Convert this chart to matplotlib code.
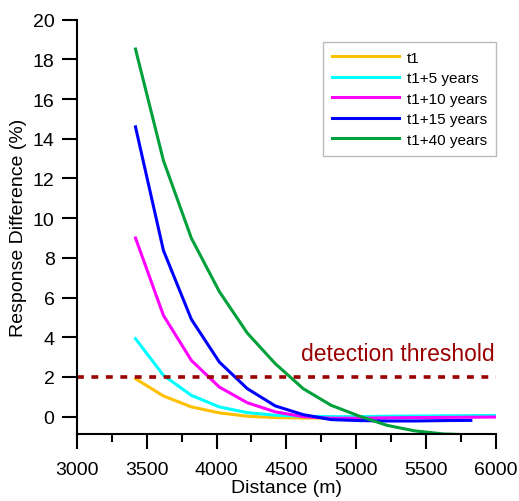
import matplotlib
matplotlib.use("Agg")
import matplotlib.pyplot as plt
from matplotlib.ticker import MultipleLocator

plt.rcParams['font.family'] = ['Liberation Sans', 'DejaVu Sans']

# distances (m) along the profile
dist_long = [3420, 3620, 3820, 4020, 4220, 4420, 4620, 4820, 5020, 5220, 5420, 5620, 5820, 6020]
dist_short = dist_long[:-1]

# response differences (%)
t1 = [1.91, 1.04, 0.49, 0.19, 0.02, -0.05, -0.07, -0.07, -0.05, -0.03, -0.01, 0.0, 0.02, 0.03]
t1_5 = [3.93, 2.08, 1.07, 0.49, 0.20, 0.07, 0.02, 0.0, 0.0, 0.02, 0.03, 0.04, 0.05, 0.06]
t1_10 = [9.0, 5.1, 2.83, 1.49, 0.70, 0.24, 0.0, -0.08, -0.08, -0.06, -0.05, -0.04, -0.03, -0.02]
t1_15 = [14.6, 8.37, 4.9, 2.75, 1.41, 0.54, 0.10, -0.15, -0.20, -0.22, -0.22, -0.20, -0.19]
t1_40 = [18.52, 12.9, 8.99, 6.3, 4.21, 2.67, 1.41, 0.57, 0.03, -0.44, -0.72, -0.87, -0.92]

threshold = 2.0

series = [
    (dist_long, t1, '#FFC000', 't1'),
    (dist_long, t1_5, '#00FFFF', 't1+5 years'),
    (dist_long, t1_10, '#FF00FF', 't1+10 years'),
    (dist_short, t1_15, '#0000FF', 't1+15 years'),
    (dist_short, t1_40, '#00A03A', 't1+40 years'),
]

fig = plt.figure(figsize=(5.19, 5.02), dpi=100)
ax = fig.add_axes([0.148, 0.1325, 0.8077, 0.8263])

for x, y, c, lab in series:
    ax.plot(x, y, color=c, lw=2.2, label=lab)

ax.plot([3000, 6000], [threshold, threshold], color='#9B0000', lw=2.6,
        linestyle=(0, (1.9, 2.1)), solid_capstyle='butt')
ax.text(5300, 2.85, 'detection threshold', color='#9B0000', fontsize=16.5,
        ha='center', va='baseline')

ax.set_xlim(3000, 6000)
ax.set_ylim(-0.9, 20)
ax.xaxis.set_major_locator(MultipleLocator(500))
ax.xaxis.set_minor_locator(MultipleLocator(250))
ax.yaxis.set_major_locator(MultipleLocator(2))

for s in ['top', 'right']:
    ax.spines[s].set_visible(False)
for s in ['left', 'bottom']:
    ax.spines[s].set_linewidth(1.5)

ax.tick_params(which='major', length=11, width=1.5, labelsize=14)
ax.tick_params(axis='x', which='major', pad=8)
ax.tick_params(axis='y', which='major', pad=5)
ax.tick_params(which='minor', length=6, width=1.5)

ax.set_xlabel('Distance (m)', fontsize=14, labelpad=1)
ax.set_ylabel('Response Difference (%)', fontsize=14, labelpad=4)

leg = ax.legend(loc='upper right', bbox_to_anchor=(1.0, 0.947), fontsize=11,
                frameon=True, fancybox=False, edgecolor='#AAAAAA',
                handlelength=4.4, labelspacing=0.42, borderpad=0.6,
                handletextpad=0.5, borderaxespad=0)
leg.get_frame().set_linewidth(1.0)

fig.savefig('out.png', dpi=100)
